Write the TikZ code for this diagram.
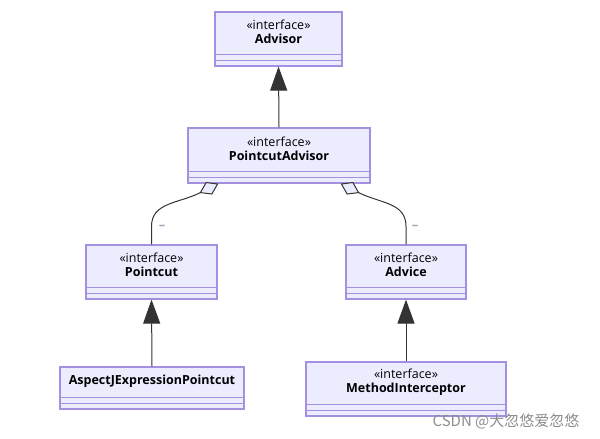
\documentclass[tikz,border=0pt]{standalone}
\usepackage{fontspec}
\setmainfont{Open Sans}
\newfontfamily\cjkfont{Noto Sans CJK SC}
\usepackage{tikz}
\usetikzlibrary{calc}
\usetikzlibrary{arrows.meta}
\definecolor{classfill}{HTML}{ECECFF}
\definecolor{classborder}{HTML}{A58FE0}
\definecolor{linkcolor}{HTML}{333333}
\definecolor{cardcolor}{HTML}{9AAABB}
\tikzset{
  classbox/.style={draw=classborder, fill=classfill, line width=1.2pt, inner sep=0pt},
  classline/.style={draw=classborder, line width=1.2pt},
  classtext/.style={align=center, text=black, font=\fontsize{12.5}{13.5}\selectfont, inner sep=0pt},
  inherit/.style={draw=linkcolor, line width=1pt, -{Triangle[length=24pt,width=17pt,fill=linkcolor]}},
  aggr/.style={draw=linkcolor, line width=1pt, -{Diamond[length=21pt,width=14pt,open,fill=classfill,line width=1pt]}},
  card/.style={text=cardcolor, font=\fontsize{13}{13}\selectfont\bfseries, inner sep=0pt}
}

\begin{document}
\begin{tikzpicture}[x=1pt, y=-1pt]
  \useasboundingbox (0,0) rectangle (600,439);

  % class boxes
  \node[classbox, minimum width=127, minimum height=54] (advisor) at (278.5,39) {};
  \node[classbox, minimum width=182, minimum height=55] (pcadvisor) at (279,155.5) {};
  \node[classbox, minimum width=131, minimum height=54] (pointcut) at (151.5,272) {};
  \node[classbox, minimum width=120, minimum height=54] (advice) at (406,272) {};
  \node[classbox, minimum width=184, minimum height=42] (aspectj) at (152,388) {};
  \node[classbox, minimum width=200, minimum height=54] (methodint) at (406,389) {};

  % empty compartments
  \foreach \c in {advisor, pcadvisor, pointcut, advice, aspectj, methodint} {
    \draw[classline] ($(\c.south west)+(0,-12.5)$) -- ($(\c.south east)+(0,-12.5)$);
    \draw[classline] ($(\c.south west)+(0,-6)$) -- ($(\c.south east)+(0,-6)$);
  }

  % class names
  \node[classtext] (advisor-txt) at ($(advisor.north)+(0,20.5)$) {«interface»\\\textbf{Advisor}};
  \node[classtext] (pcadvisor-txt) at ($(pcadvisor.north)+(0,21.5)$) {«interface»\\\textbf{PointcutAdvisor}};
  \node[classtext] (pointcut-txt) at ($(pointcut.north)+(0,20.5)$) {«interface»\\\textbf{Pointcut}};
  \node[classtext] (advice-txt) at ($(advice.north)+(0,20.5)$) {«interface»\\\textbf{Advice}};
  \node[classtext] (aspectj-txt) at ($(aspectj.north)+(0,15)$) {\textbf{AspectJExpressionPointcut}};
  \node[classtext] (methodint-txt) at ($(methodint.north)+(0,21)$) {«interface»\\\textbf{MethodInterceptor}};

  % inheritance
  \draw[inherit] (pcadvisor.north) -- (advisor.south);
  \draw[inherit] (aspectj.north) -- (pointcut.south);
  \draw[inherit] (methodint.north) -- (advice.south);

  % aggregation
  \coordinate (aggL) at ($(pcadvisor.south west)+(31,0)$);
  \coordinate (aggR) at ($(pcadvisor.south east)+(-30,0)$);
  \draw[aggr] (pointcut.north) -- ++(0,-18) .. controls +(0,-24) and +(-40,20) .. (aggL);
  \draw[aggr] (advice.north) -- ++(0,-18) .. controls +(0,-24) and +(40,20) .. (aggR);
  \node[card] (cardL) at (162,227) {–};
  \node[card] (cardR) at (415,227) {–};

  % watermark
  \node[text=black!45, font=\cjkfont\fontsize{15}{15}\selectfont, inner sep=0pt] (mark) at (506,421) {CSDN @大忽悠爱忽悠};
\end{tikzpicture}
\end{document}
